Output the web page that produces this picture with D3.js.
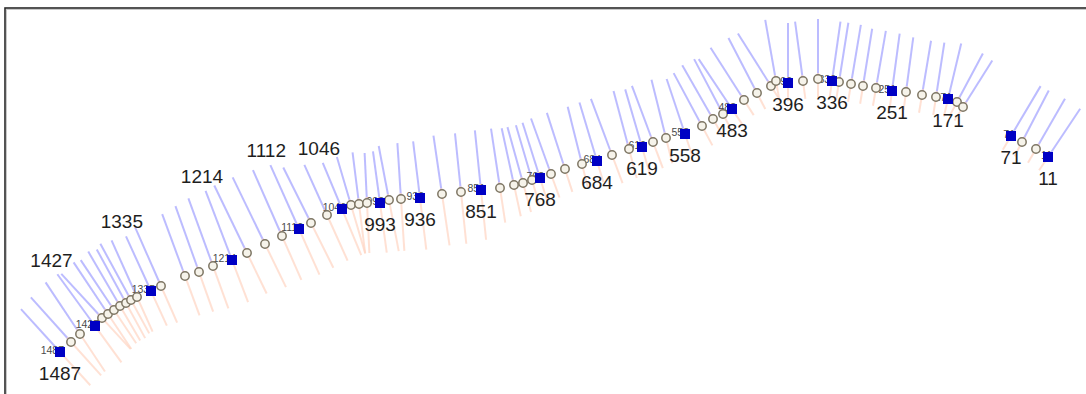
<!DOCTYPE html>
<html>
<head>
<meta charset="utf-8">
<script src="https://cdn.jsdelivr.net/npm/d3@7"></script>
<style>
  html, body { margin: 0; padding: 0; background: #fff; }
  svg { display: block; }
</style>
</head>
<body>
<svg id="chart" width="1086" height="394"></svg>
<script>
// Route stations: distance to go (km), easting / northing (map units)
const distKm = [1487,1467,1451,1427, 1412,1402,1392,1382,1373,1365,1356,1335,
  1319,1283,1263,1242,1214, 1191,1163,1137,1112, 1093,1069,1046,
  1033,1022,1011,993, 980,963,936, 905,878,851, 825,805,792,779,768,
  752,731,706,684, 662,637,619, 603,584,558, 532,513,498,483,
  463,443,421,412,396, 376,356,336, 326,309,292,274,251,
  231,208,188,171, 158,148, 71, 54,32,11];

const easting = [20,31,40,55, 62,68,74,80,86,91,97,111,
  121,145,159,173,192, 207,225,242,259, 271,287,302,
  311,319,327,340, 349,361,380, 402,421,441, 460,474,483,492,500,
  511,525,542,557, 572,589,602, 613,626,645, 662,673,683,692,
  704,717,731,736,748, 763,778,792, 799,811,823,836,852,
  866,882,896,908, 917,923, 971, 982,996,1008];

const northing = [48,58,66,74, 82,86,90,94,97,100,103,109,
  114,124,128,134,140, 147,156,164,171, 177,185,191,
  195,196,197,197, 200,201,202, 206,208,210, 212,215,217,220,222,
  226,231,236,239, 245,251,253, 258,262,266, 274,281,286,291,
  300,307,314,319,317, 319,321,319, 318,316,314,312,309,
  308,305,303,301, 298,293, 264, 258,251,243];

// Profile values drawn across the route: upper side (blue) and lower side (orange)
const upperVal = [58,60,62,64, 60,62,60,63,61,64,62,60,
  64,66,70,72,74, 75,74,72,70, 62,55,50,
  50,52,50,52, 55,56,57, 59,59,60, 60,58,58,57,58,
  59,59,59,61, 60,60,60, 60,60,58, 60,62,62,60,
  62,62,62,62,60, 60,60,60, 60,60,58,58,58,
  55,55,55,57, 55,55, 58, 58,58,58];

const lowerVal = [45,45,45,45, 42,42,40,40,40,38,38,38,
  40,42,42,45,45, 45,48,48,50, 50,50,50,
  50,50,50,50, 52,52,52, 52,52,50, 35,32,30,28,26,
  25,24,24,22, 30,30,30, 28,26,24, 22,20,20,20,
  18,18,18,18,18, 18,18,18, 18,18,18,18,18,
  18,18,18,18, 16,16, 16, 16,16,16];

// Stations shown with a square and a large label
const keyKm = [1487,1427,1335,1214,1112,1046,993,936,851,768,684,619,558,483,396,336,251,171,71,11];
// Large labels placed beyond the upper profile end rather than below the marker
const labelAtTip = [1427,1335,1214,1112,1046];

const svg = d3.select("#chart");
const W = 1086, H = 394;

const x = d3.scaleLinear().domain([0, 1040]).range([40, 1080]);
const y = d3.scaleLinear().domain([0, 400]).range([400, 0]);
const len = d3.scaleLinear().domain([0, 100]).range([0, 100]);

const pts = distKm.map((d, i) => ({
  km: d, px: x(easting[i]), py: y(northing[i]),
  up: upperVal[i], lo: lowerVal[i], key: keyKm.includes(d)
}));

// Normal to the route at each station (pointing to the upper side)
pts.forEach((p, i) => {
  const a = pts[Math.max(i - 1, 0)], b = pts[Math.min(i + 1, pts.length - 1)];
  let tx = b.px - a.px, ty = b.py - a.py;
  const m = Math.hypot(tx, ty) || 1;
  tx /= m; ty /= m;
  p.nx = ty; p.ny = -tx;
});

// Frame
svg.append("rect").attr("x", 6.5).attr("y", 9.5).attr("width", W + 20).attr("height", H + 20)
  .attr("fill", "none").attr("stroke", "#c8c8c8").attr("stroke-width", 1);
svg.append("rect").attr("x", 5).attr("y", 8).attr("width", W + 20).attr("height", H + 20)
  .attr("fill", "none").attr("stroke", "#2a2a2a").attr("stroke-width", 1.6);

const g = svg.append("g");

// Upper profile (blue)
g.selectAll("line.up").data(pts).join("line").attr("class", "up")
  .attr("x1", d => d.px).attr("y1", d => d.py)
  .attr("x2", d => d.px + d.nx * len(d.up)).attr("y2", d => d.py + d.ny * len(d.up))
  .attr("stroke", "#b0b0ff").attr("stroke-width", 2).attr("stroke-opacity", 0.85);

// Lower profile (orange)
g.selectAll("line.lo").data(pts).join("line").attr("class", "lo")
  .attr("x1", d => d.px + d.nx * 6).attr("y1", d => d.py + d.ny * 6)
  .attr("x2", d => d.px - d.nx * len(d.lo)).attr("y2", d => d.py - d.ny * len(d.lo))
  .attr("stroke", "#ffd4c2").attr("stroke-width", 2).attr("stroke-opacity", 0.7);

const keys = pts.filter(d => d.key);

// Small station labels (sit under the markers)
g.selectAll("text.small").data(keys).join("text").attr("class", "small")
  .attr("x", d => d.px + 4).attr("y", d => d.py + 2)
  .attr("text-anchor", "end")
  .attr("font-family", "Arial, 'Liberation Sans', sans-serif")
  .attr("font-size", 10.5).attr("fill", "#4a4a4a")
  .text(d => d.km);

// Intermediate stations
g.selectAll("circle").data(pts.filter(d => !d.key)).join("circle")
  .attr("cx", d => d.px).attr("cy", d => d.py).attr("r", 4.2)
  .attr("fill", "#f6f3ea").attr("stroke", "#7e7664").attr("stroke-width", 1.5);

// Key stations
g.selectAll("rect.key").data(keys).join("rect").attr("class", "key")
  .attr("x", d => d.px - 5).attr("y", d => d.py - 5).attr("width", 10).attr("height", 10)
  .attr("fill", "#0000c4");

// Large labels
g.selectAll("text.big").data(keys).join("text").attr("class", "big")
  .attr("font-family", "Arial, 'Liberation Sans', sans-serif")
  .attr("font-size", 19).attr("fill", "#1e1e1e").attr("text-anchor", "middle")
  .attr("x", d => labelAtTip.includes(d.km) ? d.px + d.nx * (len(d.up) + 10) : d.px)
  .attr("y", d => labelAtTip.includes(d.km) ? d.py + d.ny * (len(d.up) + 10) + 1 : d.py + 28)
  .text(d => d.km);
</script>
</body>
</html>
